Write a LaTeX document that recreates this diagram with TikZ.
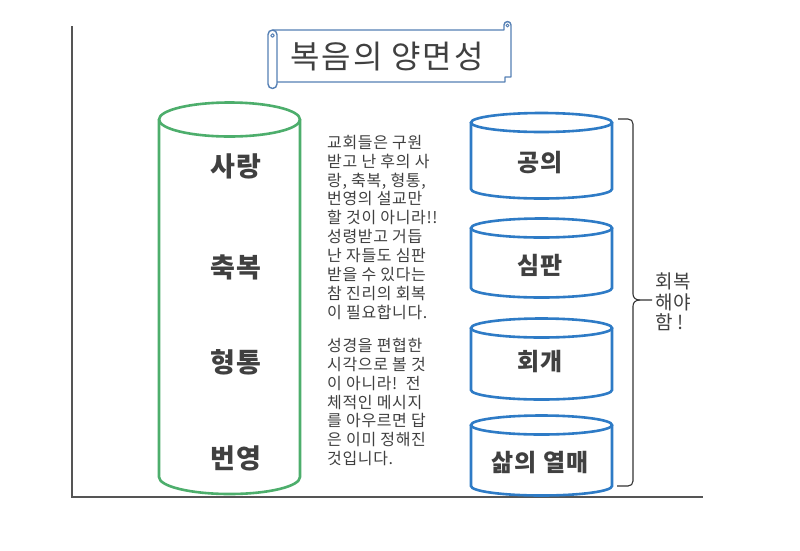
\documentclass[tikz,border=0pt]{standalone}
\usepackage{fontspec}
\setmainfont{Noto Sans CJK KR}
\newfontfamily\bodyfont[LetterSpace=4]{Noto Sans CJK KR}
\newfontfamily\titlefont[LetterSpace=6]{Noto Sans CJK KR}
\newfontfamily\labelfont[LetterSpace=5]{Noto Sans CJK KR}
\definecolor{axisgray}{HTML}{555555}
\definecolor{txtgray}{HTML}{404040}
\definecolor{cylgreen}{HTML}{4DAE6C}
\definecolor{cylblue}{HTML}{2E7BC6}
\definecolor{scrollblue}{HTML}{5580B5}
\tikzset{
  axisline/.style={draw=axisgray,line width=2.2pt},
  greencyl/.style={draw=cylgreen,line width=2.6pt},
  bluecyl/.style={draw=cylblue,line width=2.6pt},
  scrollline/.style={draw=scrollblue,line width=1.4pt,line join=round},
  bracestyle/.style={draw=black!80,line width=1.1pt},
  biglabel/.style={font=\labelfont\bfseries\fontsize{27}{32}\selectfont,text=txtgray,inner sep=0pt},
  smalllabel/.style={font=\labelfont\bfseries\fontsize{24}{28}\selectfont,text=txtgray,inner sep=0pt},
  bodytext/.style={font=\bodyfont\fontsize{16}{18.85}\selectfont,text=txtgray,align=left,inner sep=0pt,anchor=north west}
}
\newcommand\drawcyl[6]{%
  \pgfmathsetmacro\cylcx{(#1+#2)/2}\pgfmathsetmacro\cylrx{(#2-#1)/2}%
  \draw[#6] (#1,#3) -- (#1,#4)
    .. controls (#1,{#4+0.5523*#5}) and ({\cylcx-0.5523*\cylrx},{#4+#5}) .. (\cylcx,{#4+#5})
    .. controls ({\cylcx+0.5523*\cylrx},{#4+#5}) and (#2,{#4+0.5523*#5}) .. (#2,#4) -- (#2,#3);
  \draw[#6] (\cylcx,#3) ellipse[x radius=\cylrx, y radius=#5];
}
\begin{document}
\begin{tikzpicture}[x=1pt,y=-1pt]
\useasboundingbox[fill=white] (0,0) rectangle (800,550);
% axes
\coordinate (axtop) at (72,26);
\coordinate (axorigin) at (72,497);
\coordinate (axright) at (703,497);
\draw[axisline] (axtop) -- (axorigin) -- (axright);
% title scroll
\draw[scrollline] (272.5,30) -- (504,30) -- (504,25)
  .. controls (504,20.5) and (511,20.5) .. (511,25) -- (511,77) -- (505,77) -- (505,82) -- (277,82);
\draw[scrollline] (277,82) -- (277,34.5)
  .. controls (277,32) and (275,30) .. (272.5,30)
  .. controls (270,30) and (268,32) .. (268,34.5) -- (268,84)
  .. controls (268,86.5) and (270,88.5) .. (272.5,88.5)
  .. controls (275,88.5) and (277,86.5) .. (277,84) -- (277,82);
\draw[scrollline,line width=1pt] (272.5,35.5) circle[radius=1.8];
\draw[scrollline,line width=1pt] (507.5,25.5) circle[radius=1.5];
\node[font=\titlefont\fontsize{32}{36}\selectfont,text=txtgray,inner sep=0pt] (title) at (387,57) {복음의 양면성};
% green cylinder
\drawcyl{159}{300}{119.5}{477}{17}{greencyl}
\node[biglabel] (g1) at (236,166) {사랑};
\node[biglabel] (g2) at (236,267) {축복};
\node[biglabel] (g3) at (236,362) {형통};
\node[biglabel] (g4) at (236,458) {번영};
% blue cylinders
\drawcyl{471}{612}{122.5}{189}{9.5}{bluecyl}
\drawcyl{471}{612}{228}{288}{9.5}{bluecyl}
\drawcyl{471}{612}{328}{390}{9.5}{bluecyl}
\drawcyl{471}{612}{425}{486}{9.5}{bluecyl}
\node[smalllabel] (b1) at (540,163) {공의};
\node[smalllabel] (b2) at (540,265) {심판};
\node[smalllabel] (b3) at (540,362) {회개};
\node[smalllabel] (b4) at (540,463) {삶의 열매};
% paragraphs
\node[bodytext] (p1) at (327,135) {교회들은 구원\\받고 난 후의 사\\랑, 축복, 형통,\\번영의 설교만\\할 것이 아니라!!\\성령받고 거듭\\난 자들도 심판\\받을 수 있다는\\참 진리의 회복\\이 필요합니다.};
\node[bodytext] (p2) at (327,338) {성경을 편협한\\시각으로 볼 것\\이 아니라!\ \ 전\\체적인 메시지\\를 아우르면 답\\은 이미 정해진\\것입니다.};
% brace
\coordinate (brtop) at (618,119);
\coordinate (brmid) at (652,300);
\coordinate (brbot) at (617,486);
\draw[bracestyle] (brtop) -- (628,119) .. controls (631,119) and (633,121) .. (633,124)
  -- (633,294) .. controls (633,298) and (636,300) .. (640,300) -- (brmid);
\draw[bracestyle] (640,300) .. controls (636,300) and (633,302) .. (633,306)
  -- (633,481) .. controls (633,484) and (631,486) .. (628,486) -- (brbot);
\node[font=\bodyfont\fontsize{19}{20.5}\selectfont,text=txtgray,align=left,inner sep=0pt,anchor=west] (bracelabel) at (655,302) {회복\\해야\\함 !};
\end{tikzpicture}
\end{document}
